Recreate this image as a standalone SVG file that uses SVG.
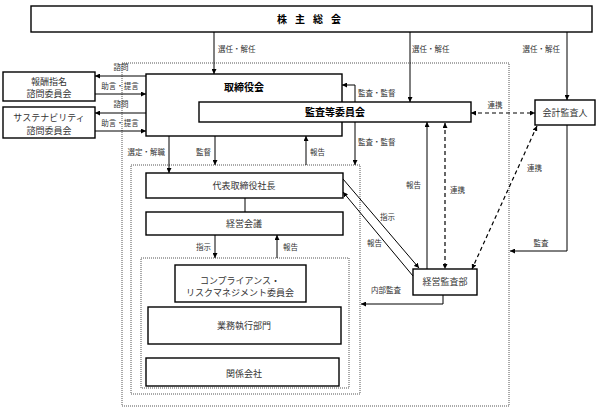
<svg xmlns="http://www.w3.org/2000/svg" width="602" height="411" viewBox="0 0 602 411">
<style>
.box{fill:#fff;stroke:#000;stroke-width:1.4}
.dot{fill:none;stroke:#555;stroke-width:1;stroke-dasharray:1 1}
.ln{fill:none;stroke:#000;stroke-width:1}
.dash{fill:none;stroke:#000;stroke-width:1.2;stroke-dasharray:4 3}
.t{font-family:"Noto Sans CJK JP","Noto Sans",sans-serif;font-size:9px;fill:#333;text-anchor:middle}
.b{font-family:"Noto Sans CJK JP","Noto Sans",sans-serif;font-size:10px;font-weight:bold;fill:#000;text-anchor:middle}
.l{font-family:"Noto Sans CJK JP","Noto Sans",sans-serif;font-size:7.5px;fill:#333}
.m{text-anchor:middle}
.e{text-anchor:end}
</style>
<defs>
<marker id="ah" viewBox="0 0 10 10" refX="10" refY="5" markerWidth="5" markerHeight="5" orient="auto-start-reverse" markerUnits="userSpaceOnUse">
<path d="M0,0 L10,5 L0,10 z" fill="#000"/>
</marker>
</defs>
<rect width="602" height="411" fill="#fff"/>
<g id="frames">
<rect class="dot" x="122" y="63" width="387" height="343"/>
<rect class="dot" x="131" y="165" width="229" height="229"/>
<rect class="dot" x="141" y="258" width="208" height="130"/>
</g>
<g id="shareholders"><rect class="box" x="31" y="6" width="561" height="26"/><text class="b" x="313" y="23" font-size="9.5" letter-spacing="8">株主総会</text></g>
<g id="board"><rect class="box" x="146" y="74" width="196" height="62"/><text class="b" x="244" y="91">取締役会</text></g>
<g id="audit-committee"><rect class="box" x="199" y="102" width="272" height="20"/><text class="b" x="335" y="116">監査等委員会</text></g>
<g id="accounting-auditor"><rect class="box" x="535" y="100" width="60" height="25"/><text class="t" x="565" y="116">会計監査人</text></g>
<g id="nomination"><rect class="box" x="3" y="72" width="92" height="29"/><text class="t" x="49" y="85">報酬指名</text><text class="t" x="49" y="97">諮問委員会</text></g>
<g id="sustainability"><rect class="box" x="3" y="107" width="92" height="31"/><text class="t" x="49" y="121">サステナビリティ</text><text class="t" x="49" y="134">諮問委員会</text></g>
<g id="president"><rect class="box" x="146" y="173" width="197" height="25"/><text class="t" x="244" y="189">代表取締役社長</text></g>
<g id="management-meeting"><rect class="box" x="146" y="212" width="197" height="23"/><text class="t" x="244" y="227">経営会議</text></g>
<g id="compliance"><rect class="box" x="175" y="265" width="131" height="37"/><text class="t" x="240" y="284">コンプライアンス・</text><text class="t" x="240" y="296">リスクマネジメント委員会</text></g>
<g id="business"><rect class="box" x="148" y="307" width="193" height="37"/><text class="t" x="244" y="329">業務執行部門</text></g>
<g id="affiliates"><rect class="box" x="146" y="358" width="193" height="28"/><text class="t" x="244" y="377">関係会社</text></g>
<g id="internal-audit"><rect class="box" x="413" y="269" width="64" height="26"/><text class="t" x="445" y="285">経営監査部</text></g>
<g id="connectors">
<line class="ln" x1="214" y1="32" x2="214" y2="74" marker-end="url(#ah)"/>
<line class="ln" x1="410" y1="32" x2="410" y2="102" marker-end="url(#ah)"/>
<line class="ln" x1="567" y1="32" x2="567" y2="100" marker-end="url(#ah)"/>
<polyline class="ln" points="355,102 355,85 342,85" marker-end="url(#ah)"/>
<line class="ln" x1="355" y1="122" x2="355" y2="165" marker-end="url(#ah)"/>
<line class="ln" x1="169" y1="136" x2="169" y2="173" marker-end="url(#ah)"/>
<line class="ln" x1="215" y1="136" x2="215" y2="165" marker-end="url(#ah)"/>
<line class="ln" x1="306" y1="165" x2="306" y2="136" marker-end="url(#ah)"/>
<line class="ln" x1="245" y1="198" x2="245" y2="212"/>
<line class="ln" x1="215" y1="235" x2="215" y2="258" marker-end="url(#ah)"/>
<line class="ln" x1="277" y1="258" x2="277" y2="235" marker-end="url(#ah)"/>
<line class="ln" x1="343" y1="179" x2="419" y2="268" marker-end="url(#ah)"/>
<line class="ln" x1="413" y1="276" x2="343" y2="192" marker-end="url(#ah)"/>
<line class="ln" x1="427" y1="269" x2="427" y2="122" marker-end="url(#ah)"/>
<line class="dash" x1="445" y1="123" x2="445" y2="269" marker-start="url(#ah)" marker-end="url(#ah)"/>
<line class="dash" x1="471" y1="113" x2="535" y2="113" marker-start="url(#ah)" marker-end="url(#ah)"/>
<line class="dash" x1="537" y1="126" x2="472" y2="269" marker-start="url(#ah)" marker-end="url(#ah)"/>
<polyline class="ln" points="567,125 567,251 510,251" marker-end="url(#ah)"/>
<polyline class="ln" points="443,295 443,304 361,304" marker-end="url(#ah)"/>
<line class="ln" x1="146" y1="76" x2="95" y2="76" marker-end="url(#ah)"/>
<line class="ln" x1="95" y1="94" x2="146" y2="94" marker-end="url(#ah)"/>
<line class="ln" x1="146" y1="113" x2="95" y2="113" marker-end="url(#ah)"/>
<line class="ln" x1="95" y1="131" x2="146" y2="131" marker-end="url(#ah)"/>
</g>
<g id="labels">
<text class="l" x="218" y="52">選任・解任</text>
<text class="l" x="412" y="52">選任・解任</text>
<text class="l e" x="560" y="52">選任・解任</text>
<text class="l" x="358" y="96">監査・監督</text>
<text class="l" x="358" y="145">監査・監督</text>
<text class="l e" x="165" y="155">選定・解職</text>
<text class="l e" x="211" y="155">監督</text>
<text class="l" x="310" y="155">報告</text>
<text class="l e" x="211" y="250">指示</text>
<text class="l" x="283" y="250">報告</text>
<text class="l" x="380" y="220">指示</text>
<text class="l" x="367" y="246">報告</text>
<text class="l e" x="421" y="188">報告</text>
<text class="l" x="450" y="193">連携</text>
<text class="l m" x="495" y="108">連携</text>
<text class="l" x="527" y="171">連携</text>
<text class="l m" x="541" y="246">監査</text>
<text class="l m" x="386" y="293">内部監査</text>
<text class="l m" x="121" y="70">諮問</text>
<text class="l m" x="120" y="89">助言・提言</text>
<text class="l m" x="121" y="107">諮問</text>
<text class="l m" x="120" y="126">助言・提言</text>
</g>
</svg>
